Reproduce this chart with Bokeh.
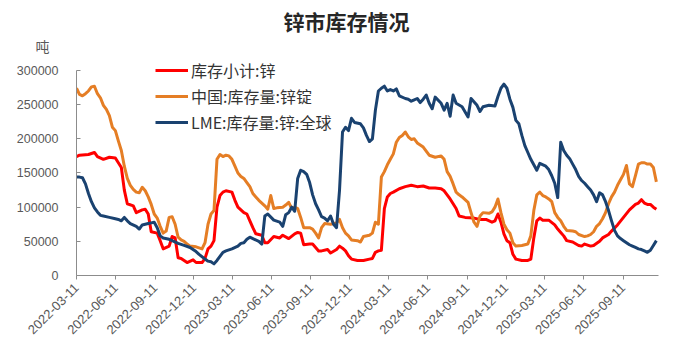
from datetime import datetime
import pandas as pd
from bokeh.plotting import figure
from bokeh.models import (ColumnDataSource, FixedTicker, DatetimeTickFormatter, Range1d,
                          NumeralTickFormatter, Title, Legend, LegendItem)
from bokeh.embed import file_html
from bokeh.resources import INLINE

# ---------------- data ----------------
title_text = "锌市库存情况"
unit_text = "吨"
series_names = ["库存小计:锌", "中国:库存量:锌锭", "LME:库存量:锌:全球"]
x_tick_labels = ["2022-03-11", "2022-06-11", "2022-09-11", "2022-12-11", "2023-03-11",
                 "2023-06-11", "2023-09-11", "2023-12-11", "2024-03-11", "2024-06-11",
                 "2024-09-11", "2024-12-11", "2025-03-11", "2025-06-11", "2025-09-11"]
y_ticks = [0, 50000, 100000, 150000, 200000, 250000, 300000]

total_dates = ["2022-03-11", "2022-03-18", "2022-04-08", "2022-04-22", "2022-04-29", "2022-05-13",
    "2022-05-27", "2022-06-10", "2022-06-17", "2022-06-24", "2022-07-01", "2022-07-08", "2022-07-22",
    "2022-07-29", "2022-08-12", "2022-08-19", "2022-08-26", "2022-09-02", "2022-09-16", "2022-09-23",
    "2022-09-30", "2022-10-14", "2022-10-21", "2022-10-28", "2022-11-04", "2022-11-11", "2022-11-25",
    "2022-12-09", "2022-12-16", "2022-12-30", "2023-01-06", "2023-01-13", "2023-01-20", "2023-01-27",
    "2023-02-03", "2023-02-10", "2023-02-17", "2023-02-24", "2023-03-10", "2023-03-17", "2023-03-24",
    "2023-04-07", "2023-04-14", "2023-04-21", "2023-04-28", "2023-05-05", "2023-05-19", "2023-05-26",
    "2023-06-02", "2023-06-16", "2023-06-30", "2023-07-07", "2023-07-21", "2023-08-04", "2023-08-11",
    "2023-08-18", "2023-08-25", "2023-09-08", "2023-09-15", "2023-09-29", "2023-10-06", "2023-10-20",
    "2023-10-27", "2023-11-10", "2023-11-17", "2023-11-24", "2023-12-01", "2023-12-08", "2023-12-15",
    "2023-12-29", "2024-01-12", "2024-01-26", "2024-02-02", "2024-02-09", "2024-02-16", "2024-02-23",
    "2024-03-01", "2024-03-08", "2024-03-15", "2024-03-22", "2024-04-05", "2024-04-19", "2024-05-03",
    "2024-05-17", "2024-05-31", "2024-06-14", "2024-06-28", "2024-07-12", "2024-07-19", "2024-08-02",
    "2024-08-16", "2024-08-23", "2024-09-06", "2024-09-27", "2024-10-11", "2024-10-25", "2024-11-08",
    "2024-11-15", "2024-11-22", "2024-11-29", "2024-12-06", "2024-12-13", "2024-12-20", "2024-12-27",
    "2025-01-03", "2025-01-17", "2025-01-31", "2025-02-07", "2025-02-14", "2025-02-21", "2025-02-28",
    "2025-03-07", "2025-03-21", "2025-04-04", "2025-04-11", "2025-04-18", "2025-04-25", "2025-05-02",
    "2025-05-16", "2025-05-30", "2025-06-06", "2025-06-13", "2025-06-27", "2025-07-04", "2025-07-18",
    "2025-07-25", "2025-08-08", "2025-08-15", "2025-08-29", "2025-09-12", "2025-09-26", "2025-10-10",
    "2025-10-17", "2025-10-24", "2025-10-31", "2025-11-07", "2025-11-14", "2025-11-21", "2025-11-28"]
total_values = [174000, 176000, 177000, 180000, 174000, 170000,
    173000, 172000, 165000, 158000, 125000, 105000, 102000,
    92000, 96000, 97000, 90000, 64000, 62000, 51000,
    39000, 43000, 57000, 55000, 26000, 25000, 19000,
    23000, 19000, 19000, 25000, 39000, 43000, 51000,
    100000, 117000, 122000, 124000, 122000, 110000, 100000,
    92000, 90000, 80000, 70000, 61000, 59000, 48000,
    48000, 57000, 55000, 59000, 54000, 61000, 63000,
    62000, 45000, 46000, 46000, 36000, 36000, 38000,
    33000, 38000, 43000, 40000, 36000, 29000, 24000,
    22000, 22000, 24000, 25000, 34000, 36000, 37000,
    98000, 115000, 120000, 122000, 127000, 130000, 132000,
    130000, 131000, 128000, 128000, 127000, 124000, 112000,
    98000, 87000, 85000, 84000, 82000, 82000, 78000,
    80000, 90000, 78000, 61000, 51000, 48000, 31000,
    24000, 22000, 22000, 24000, 55000, 80000, 84000,
    81000, 81000, 74000, 68000, 63000, 58000, 51000,
    49000, 44000, 43000, 46000, 43000, 44000, 50000,
    55000, 60000, 65000, 74000, 85000, 96000, 104000,
    106000, 111000, 106000, 104000, 104000, 100000, 97000]

china_dates = ["2022-03-11", "2022-03-18", "2022-03-25", "2022-04-01", "2022-04-08", "2022-04-15",
    "2022-04-22", "2022-04-29", "2022-05-06", "2022-05-13", "2022-05-20", "2022-05-27", "2022-06-03",
    "2022-06-10", "2022-06-17", "2022-06-24", "2022-07-01", "2022-07-08", "2022-07-15", "2022-07-22",
    "2022-07-29", "2022-08-05", "2022-08-12", "2022-08-19", "2022-08-26", "2022-09-02", "2022-09-09",
    "2022-09-16", "2022-09-23", "2022-09-30", "2022-10-07", "2022-10-14", "2022-10-21", "2022-10-28",
    "2022-11-04", "2022-11-11", "2022-11-18", "2022-11-25", "2022-12-02", "2022-12-16", "2022-12-30",
    "2023-01-06", "2023-01-13", "2023-01-20", "2023-01-27", "2023-02-03", "2023-02-10", "2023-02-17",
    "2023-02-24", "2023-03-03", "2023-03-10", "2023-03-17", "2023-03-24", "2023-03-31", "2023-04-07",
    "2023-04-14", "2023-04-21", "2023-04-28", "2023-05-05", "2023-05-12", "2023-05-19", "2023-05-26",
    "2023-06-02", "2023-06-09", "2023-06-16", "2023-06-23", "2023-07-07", "2023-07-14", "2023-07-21",
    "2023-07-28", "2023-08-04", "2023-08-11", "2023-08-18", "2023-08-25", "2023-09-08", "2023-09-15",
    "2023-09-22", "2023-09-29", "2023-10-06", "2023-10-13", "2023-10-27", "2023-11-10", "2023-11-17",
    "2023-11-24", "2023-12-01", "2023-12-08", "2023-12-15", "2023-12-29", "2024-01-05", "2024-01-12",
    "2024-01-26", "2024-02-02", "2024-02-09", "2024-02-16", "2024-02-23", "2024-03-01", "2024-03-08",
    "2024-03-15", "2024-03-22", "2024-03-29", "2024-04-05", "2024-04-12", "2024-04-19", "2024-04-26",
    "2024-05-03", "2024-05-10", "2024-05-17", "2024-05-31", "2024-06-14", "2024-06-28", "2024-07-12",
    "2024-07-19", "2024-07-26", "2024-08-02", "2024-08-09", "2024-08-16", "2024-08-23", "2024-08-30",
    "2024-09-13", "2024-09-20", "2024-09-27", "2024-10-04", "2024-10-11", "2024-10-18", "2024-11-01",
    "2024-11-08", "2024-11-15", "2024-11-22", "2024-11-29", "2024-12-06", "2024-12-13", "2024-12-20",
    "2024-12-27", "2025-01-03", "2025-01-17", "2025-01-31", "2025-02-07", "2025-02-14", "2025-02-21",
    "2025-02-28", "2025-03-07", "2025-03-14", "2025-03-21", "2025-03-28", "2025-04-04", "2025-04-11",
    "2025-04-18", "2025-04-25", "2025-05-02", "2025-05-16", "2025-05-23", "2025-05-30", "2025-06-13",
    "2025-06-20", "2025-06-27", "2025-07-04", "2025-07-11", "2025-07-18", "2025-07-25", "2025-08-01",
    "2025-08-08", "2025-08-15", "2025-08-22", "2025-08-29", "2025-09-05", "2025-09-12", "2025-09-19",
    "2025-09-26", "2025-10-03", "2025-10-10", "2025-10-17", "2025-10-24", "2025-10-31", "2025-11-07",
    "2025-11-14", "2025-11-21", "2025-11-28"]
china_values = [274000, 265000, 263000, 266000, 270000, 276000,
    277000, 266000, 260000, 249000, 243000, 234000, 217000,
    212000, 197000, 183000, 160000, 142000, 132000, 126000,
    122000, 121000, 129000, 124000, 115000, 104000, 90000,
    84000, 72000, 62000, 65000, 85000, 86000, 75000,
    56000, 52000, 50000, 46000, 43000, 42000, 39000,
    48000, 75000, 90000, 95000, 170000, 177000, 174000,
    176000, 175000, 170000, 160000, 150000, 145000, 142000,
    136000, 130000, 120000, 115000, 110000, 106000, 102000,
    97000, 117000, 98000, 99000, 100000, 103000, 107000,
    98000, 100000, 98000, 85000, 70000, 70000, 68000,
    62000, 55000, 70000, 76000, 75000, 77000, 82000,
    70000, 62000, 58000, 52000, 51000, 49000, 57000,
    59000, 62000, 78000, 75000, 144000, 152000, 162000,
    170000, 178000, 195000, 202000, 205000, 210000, 203000,
    199000, 200000, 194000, 188000, 176000, 173000, 175000,
    170000, 152000, 145000, 134000, 122000, 118000, 115000,
    107000, 92000, 78000, 72000, 87000, 92000, 91000,
    93000, 100000, 112000, 92000, 75000, 67000, 62000,
    48000, 43000, 44000, 46000, 58000, 95000, 118000,
    122000, 117000, 115000, 112000, 108000, 92000, 85000,
    80000, 72000, 66000, 65000, 64000, 60000, 57000,
    58000, 60000, 64000, 72000, 76000, 83000, 92000,
    105000, 115000, 122000, 132000, 140000, 148000, 161000,
    134000, 130000, 146000, 163000, 165000, 165000, 163000,
    163000, 158000, 137000]

lme_dates = ["2022-03-11", "2022-03-18", "2022-03-25", "2022-04-01", "2022-04-08", "2022-04-15",
    "2022-04-22", "2022-04-29", "2022-05-06", "2022-05-13", "2022-05-27", "2022-06-10", "2022-06-17",
    "2022-06-24", "2022-07-01", "2022-07-08", "2022-07-15", "2022-07-29", "2022-08-05", "2022-08-12",
    "2022-08-26", "2022-09-02", "2022-09-09", "2022-09-16", "2022-09-23", "2022-09-30", "2022-10-14",
    "2022-10-21", "2022-11-04", "2022-11-18", "2022-12-02", "2022-12-16", "2022-12-23", "2023-01-06",
    "2023-01-13", "2023-01-20", "2023-01-27", "2023-02-03", "2023-02-10", "2023-02-17", "2023-02-24",
    "2023-03-10", "2023-03-24", "2023-03-31", "2023-04-07", "2023-04-14", "2023-04-21", "2023-04-28",
    "2023-05-12", "2023-05-19", "2023-05-26", "2023-06-02", "2023-06-16", "2023-06-30", "2023-07-07",
    "2023-07-14", "2023-07-21", "2023-07-28", "2023-08-04", "2023-08-11", "2023-08-18", "2023-08-25",
    "2023-09-01", "2023-09-08", "2023-09-15", "2023-09-22", "2023-09-29", "2023-10-06", "2023-10-13",
    "2023-10-20", "2023-10-27", "2023-11-03", "2023-11-10", "2023-11-17", "2023-11-24", "2023-12-01",
    "2023-12-08", "2023-12-15", "2023-12-22", "2024-01-05", "2024-01-12", "2024-01-19", "2024-01-26",
    "2024-02-02", "2024-02-09", "2024-02-16", "2024-02-23", "2024-03-01", "2024-03-08", "2024-03-15",
    "2024-03-22", "2024-03-29", "2024-04-05", "2024-04-19", "2024-04-26", "2024-05-03", "2024-05-10",
    "2024-05-17", "2024-05-24", "2024-05-31", "2024-06-07", "2024-06-14", "2024-06-21", "2024-06-28",
    "2024-07-12", "2024-07-19", "2024-07-26", "2024-08-02", "2024-08-09", "2024-08-16", "2024-08-30",
    "2024-09-13", "2024-09-20", "2024-10-04", "2024-10-11", "2024-10-18", "2024-11-01", "2024-11-15",
    "2024-11-22", "2024-11-29", "2024-12-06", "2024-12-13", "2024-12-20", "2024-12-27", "2025-01-03",
    "2025-01-10", "2025-01-17", "2025-01-24", "2025-01-31", "2025-02-07", "2025-02-14", "2025-02-21",
    "2025-02-28", "2025-03-14", "2025-03-21", "2025-03-28", "2025-04-04", "2025-04-11", "2025-04-18",
    "2025-04-25", "2025-05-02", "2025-05-09", "2025-05-16", "2025-05-23", "2025-05-30", "2025-06-06",
    "2025-06-13", "2025-06-20", "2025-06-27", "2025-07-04", "2025-07-11", "2025-07-18", "2025-07-25",
    "2025-08-01", "2025-08-08", "2025-08-15", "2025-08-22", "2025-08-29", "2025-09-05", "2025-09-12",
    "2025-09-19", "2025-09-26", "2025-10-03", "2025-10-10", "2025-10-17", "2025-10-24", "2025-10-31",
    "2025-11-07", "2025-11-14", "2025-11-21", "2025-11-28"]
lme_values = [144000, 144000, 143000, 134000, 120000, 108000,
    99000, 93000, 88000, 87000, 85000, 83000, 82000,
    80000, 85000, 80000, 76000, 72000, 68000, 74000,
    76000, 77000, 78000, 70000, 58000, 55000, 53000,
    51000, 47000, 44000, 41000, 35000, 31000, 24000,
    21000, 20000, 17000, 22000, 28000, 34000, 36000,
    39000, 43000, 47000, 48000, 53000, 56000, 54000,
    50000, 46000, 87000, 90000, 81000, 78000, 72000,
    89000, 92000, 100000, 94000, 142000, 154000, 152000,
    148000, 136000, 118000, 105000, 96000, 86000, 84000,
    80000, 87000, 75000, 70000, 125000, 210000, 217000,
    212000, 230000, 224000, 222000, 216000, 205000, 196000,
    200000, 242000, 270000, 274000, 277000, 270000, 272000,
    270000, 273000, 263000, 259000, 258000, 255000, 257000,
    259000, 253000, 258000, 264000, 252000, 244000, 261000,
    252000, 242000, 252000, 233000, 264000, 252000, 247000,
    232000, 259000, 249000, 240000, 247000, 249000, 248000,
    262000, 274000, 280000, 274000, 258000, 246000, 227000,
    222000, 205000, 190000, 180000, 170000, 162000, 154000,
    164000, 160000, 155000, 146000, 135000, 114000, 195000,
    183000, 176000, 171000, 163000, 155000, 145000, 139000,
    135000, 130000, 125000, 118000, 108000, 121000, 118000,
    108000, 95000, 80000, 66000, 58000, 54000, 51000,
    48000, 45000, 43000, 41000, 39000, 38000, 36000,
    34000, 37000, 44000, 51000]

colors = ["#FF0000", "#E57E25", "#1A4270"]

# ---------------- figure ----------------
def ms(s):
    return (datetime.strptime(s, "%Y-%m-%d") - datetime(1970, 1, 1)).total_seconds() * 1000.0

p = figure(width=690, height=345, output_backend="svg", toolbar_location=None,
           x_axis_type="datetime",
           x_range=Range1d(ms("2022-03-11"), ms("2025-12-03")),
           y_range=Range1d(0, 319000),
           min_border_left=76, min_border_right=32, min_border_top=57, min_border_bottom=70)
p.outline_line_color = None
p.xgrid.grid_line_color = None
p.ygrid.grid_line_color = None
p.background_fill_color = "white"
p.border_fill_color = "white"

renderers = []
for dates, vals, c in [(total_dates, total_values, colors[0]),
                       (china_dates, china_values, colors[1]),
                       (lme_dates, lme_values, colors[2])]:
    src = ColumnDataSource(dict(x=pd.to_datetime(dates), y=vals))
    r = p.line("x", "y", source=src, line_color=c, line_width=3, line_join="round")
    renderers.append(r)

# axes
axis_color = "#8C8C8C"
label_color = "#595959"
xa = p.xaxis[0]
xa.ticker = FixedTicker(ticks=[ms(s) for s in x_tick_labels])
fmt = "%Y-%m-%d"
xa.formatter = DatetimeTickFormatter(microseconds=fmt, milliseconds=fmt, seconds=fmt, minsec=fmt,
                                     minutes=fmt, hourmin=fmt, hours=fmt, days=fmt, months=fmt, years=fmt)
xa.major_label_orientation = 0.785398
xa.axis_line_color = axis_color
xa.major_tick_line_color = axis_color
xa.major_tick_out = 4
xa.major_tick_in = 0
xa.minor_tick_line_color = None
xa.major_label_text_font = "Liberation Sans"
xa.major_label_text_font_size = "13px"
xa.major_label_text_color = label_color
xa.major_label_standoff = 6

ya = p.yaxis[0]
ya.ticker = FixedTicker(ticks=y_ticks)
ya.formatter = NumeralTickFormatter(format="0")
ya.bounds = (0, 300000)
ya.axis_line_color = axis_color
ya.major_tick_line_color = axis_color
ya.major_tick_out = 0
ya.major_tick_in = 4
ya.minor_tick_line_color = None
ya.major_label_text_font = "Liberation Sans"
ya.major_label_text_font_size = "12.5px"
ya.major_label_text_color = label_color
ya.major_label_standoff = 18

# legend
legend = Legend(items=[LegendItem(label=n, renderers=[r]) for n, r in zip(series_names, renderers)],
                location=(79, 141), orientation="vertical",
                glyph_width=33, glyph_height=24, label_height=24, spacing=2,
                label_standoff=3, padding=0, margin=0,
                border_line_color=None, background_fill_alpha=0,
                label_text_font="Noto Sans CJK SC", label_text_font_size="16px",
                label_text_color="#333333")
p.add_layout(legend, "center")

# unit (closest to the frame) and main title above it
p.add_layout(Title(text=unit_text, align="left", offset=-41, standoff=3,
                   text_font="Noto Sans CJK SC", text_font_size="14px",
                   text_font_style="normal", text_color=label_color), "above")
p.add_layout(Title(text=title_text, align="left", offset=207, standoff=-6,
                   text_font="Noto Sans CJK SC", text_font_size="21px",
                   text_font_style="bold", text_color="#262626"), "above")

open("out.html", "w").write(file_html(p, INLINE))
